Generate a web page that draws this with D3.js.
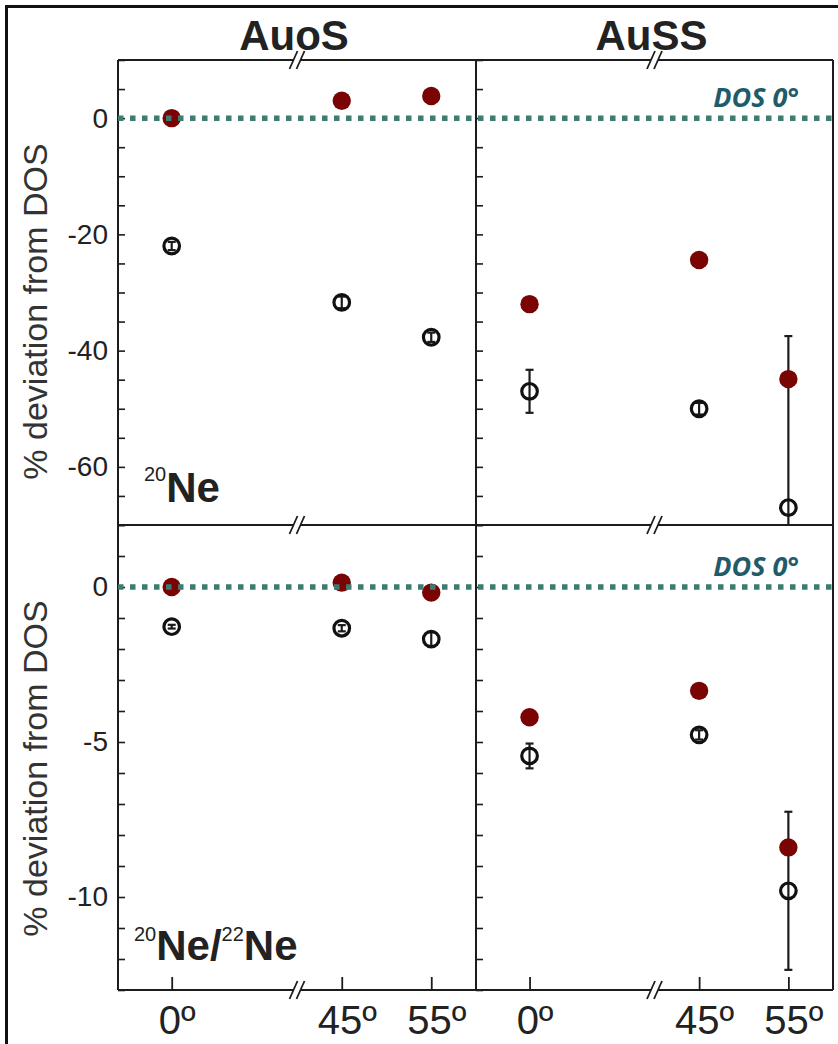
<!DOCTYPE html>
<html><head><meta charset="utf-8">
<script src="https://cdn.jsdelivr.net/npm/d3@7"></script>
<style>body{margin:0;background:#fff} svg{display:block}</style>
</head><body><svg id="c" width="838" height="1044"></svg>
<script>
// ---------- data ----------
const angles = [0, 45, 55];
const angleLabels = ["0º", "45º", "55º"];
const panelTitles = ["AuoS", "AuSS"];
const ne20Ticks = [0, -20, -40, -60];
const ratioTicks = [0, -5, -10];
const refLabel = "DOS 0°";
const yTitle = "% deviation from DOS";

// 20Ne, AuoS
const ne20_AuoS_filled = [0.0, 3.0, 3.8];
const ne20_AuoS_open = [-22.0, -31.7, -37.7];
const ne20_AuoS_err = [0.7, 1.0, 0.8];
// 20Ne, AuSS
const ne20_AuSS_filled = [-32.0, -24.4, -44.9];
const ne20_AuSS_open = [-47.0, -50.0, -67.0];
const ne20_AuSS_err = [3.7, 1.0, 29.5];
// 20Ne/22Ne, AuoS
const ratio_AuoS_filled = [0.0, 0.14, -0.18];
const ratio_AuoS_open = [-1.28, -1.33, -1.68];
const ratio_AuoS_err = [0.06, 0.1, 0.22];
// 20Ne/22Ne, AuSS
const ratio_AuSS_filled = [-4.2, -3.35, -8.4];
const ratio_AuSS_open = [-5.45, -4.77, -9.8];
const ratio_AuSS_err = [0.4, 0.15, 2.55];

// ---------- layout ----------
const W = 838, H = 1044;
const INK = "#1c1c1c", RED = "#7a0404", TEAL = "#3e7b70", DOSC = "#1f5b6b";
const FONT = "'Liberation Sans', Arial, Helvetica, sans-serif";
const colX = [118, 476], colW = [358, 357];
const rowTop = [60, 525], rowH = 465;

const svg = d3.select("#c");
svg.append("rect").attr("width", W).attr("height", H).attr("fill", "#fff");
svg.append("path").attr("d", "M6.5,1044 V6.5 H838").attr("fill", "none")
  .attr("stroke", "#111").attr("stroke-width", 3);

const xs = colX.map((x0, i) => d3.scaleLinear()
  .domain([-6, 14, 40, 60])
  .range([x0, x0 + colW[i] / 2, x0 + colW[i] / 2, x0 + colW[i]]));
const yTop = d3.scaleLinear().domain([-70, 10]).range([rowTop[0] + rowH, rowTop[0]]);
const yBot = d3.scaleLinear().domain([-13, 2]).range([rowTop[1] + rowH, rowTop[1]]);
const ys = [yTop, yBot];

const panels = [
  {r: 0, c: 0, f: ne20_AuoS_filled, o: ne20_AuoS_open, e: ne20_AuoS_err},
  {r: 0, c: 1, f: ne20_AuSS_filled, o: ne20_AuSS_open, e: ne20_AuSS_err},
  {r: 1, c: 0, f: ratio_AuoS_filled, o: ratio_AuoS_open, e: ratio_AuoS_err},
  {r: 1, c: 1, f: ratio_AuSS_filled, o: ratio_AuSS_open, e: ratio_AuSS_err}
];

const defs = svg.append("defs");
panels.forEach((p, i) => {
  defs.append("clipPath").attr("id", "clip" + i).append("rect")
    .attr("x", colX[p.c]).attr("y", rowTop[p.r]).attr("width", colW[p.c]).attr("height", rowH);
});

// minor/major inward ticks
const tickSets = [d3.range(10, -70.1, -5), d3.range(2, -13.1, -1)];
[0, 1].forEach(r => {
  [0, 1].forEach(c => {
    const g = svg.append("g").attr("transform", `translate(${colX[c]},0)`)
      .call(d3.axisRight(ys[r]).tickValues(tickSets[r]).tickSize(7).tickFormat(""));
    g.select(".domain").remove();
    g.selectAll("line").attr("stroke", INK).attr("stroke-width", 1.6);
  });
  const lg = svg.append("g").attr("transform", `translate(${colX[0]},0)`)
    .call(d3.axisLeft(ys[r]).tickValues(r === 0 ? ne20Ticks : ratioTicks).tickSize(0).tickPadding(10)
      .tickFormat(d => d3.format("d")(d).replace("−", "-")));
  lg.select(".domain").remove();
  lg.selectAll("text").attr("font-family", FONT).attr("font-size", 28).attr("fill", "#222");
});

// bottom x axis ticks + labels
[0, 1].forEach(c => {
  const g = svg.append("g").attr("transform", `translate(0,${rowTop[1] + rowH})`)
    .call(d3.axisTop(xs[c]).tickValues(angles).tickSize(13).tickFormat(""));
  g.select(".domain").remove();
  g.selectAll("line").attr("stroke", INK).attr("stroke-width", 1.8);
  const lg = svg.append("g").attr("transform", `translate(0,${rowTop[1] + rowH})`)
    .call(d3.axisBottom(xs[c]).tickValues(angles).tickSize(0).tickPadding(16)
      .tickFormat((d, i) => angleLabels[i]));
  lg.select(".domain").remove();
  lg.selectAll("text").attr("font-family", FONT).attr("font-size", 40).attr("fill", "#222").attr("dx", 5);
});

// panel frames
const xL = colX[0], xM = colX[1], xR = colX[1] + colW[1];
const frame = svg.append("g").attr("stroke", INK).attr("stroke-width", 2).attr("fill", "none");
[rowTop[0], rowTop[1], rowTop[1] + rowH].forEach(y => frame.append("line").attr("x1", xL).attr("x2", xR).attr("y1", y).attr("y2", y));
[xL, xM, xR].forEach(x => frame.append("line").attr("x1", x).attr("x2", x).attr("y1", rowTop[0]).attr("y2", rowTop[1] + rowH));

// axis break marks
function brk(x, y) {
  const g = svg.append("g");
  g.append("polygon").attr("points", `${x - 7.5},${y + 9} ${x + 0.5},${y - 9} ${x + 7.5},${y - 9} ${x - 0.5},${y + 9}`)
    .attr("fill", "#fff");
  g.append("line").attr("x1", x - 7.5).attr("y1", y + 9).attr("x2", x + 0.5).attr("y2", y - 9)
    .attr("stroke", INK).attr("stroke-width", 1.8);
  g.append("line").attr("x1", x - 0.5).attr("y1", y + 9).attr("x2", x + 7.5).attr("y2", y - 9)
    .attr("stroke", INK).attr("stroke-width", 1.8);
}
[0, 1].forEach(c => {
  const bx = xs[c](14);
  [rowTop[0], rowTop[1], rowTop[1] + rowH].forEach(y => brk(bx, y));
});

// data marks
panels.forEach((p, i) => {
  const x = xs[p.c], y = ys[p.r];
  const g = svg.append("g").attr("clip-path", `url(#clip${i})`);
  const idx = angles.map((a, k) => k);
  // error bars on open symbols
  const eb = g.selectAll(".eb").data(idx).join("g").attr("stroke", INK).attr("stroke-width", 2.2);
  eb.append("line").attr("x1", k => x(angles[k])).attr("x2", k => x(angles[k]))
    .attr("y1", k => y(p.o[k] + p.e[k])).attr("y2", k => y(p.o[k] - p.e[k]));
  eb.append("line").attr("x1", k => x(angles[k]) - 4).attr("x2", k => x(angles[k]) + 4)
    .attr("y1", k => y(p.o[k] + p.e[k])).attr("y2", k => y(p.o[k] + p.e[k]));
  eb.append("line").attr("x1", k => x(angles[k]) - 4).attr("x2", k => x(angles[k]) + 4)
    .attr("y1", k => y(p.o[k] - p.e[k])).attr("y2", k => y(p.o[k] - p.e[k]));
  // open circles
  g.selectAll(".oc").data(idx).join("circle")
    .attr("cx", k => x(angles[k])).attr("cy", k => y(p.o[k])).attr("r", 7.8)
    .attr("fill", "none").attr("stroke", "#111").attr("stroke-width", 3.2);
  // filled circles
  g.selectAll(".fc").data(idx).join("circle")
    .attr("cx", k => x(angles[k])).attr("cy", k => y(p.f[k])).attr("r", 9.2)
    .attr("fill", RED);
});

// DOS reference dotted lines
[0, 1].forEach(r => {
  svg.append("line").attr("x1", xL).attr("x2", xR).attr("y1", ys[r](0)).attr("y2", ys[r](0))
    .attr("stroke", TEAL).attr("stroke-width", 5.5).attr("stroke-dasharray", "5.5 6.5");
  svg.append("text").attr("x", 799).attr("y", ys[r](0) - 11)
    .attr("text-anchor", "end").attr("font-family", "'Open Sans', sans-serif")
    .attr("font-style", "italic").attr("font-weight", "bold").attr("font-size", 27)
    .attr("fill", DOSC).text(refLabel);
});

// titles
panelTitles.forEach((t, c) => {
  svg.append("text").attr("x", xs[c](14) - 3).attr("y", 50).attr("text-anchor", "middle")
    .attr("font-family", FONT).attr("font-weight", "bold").attr("font-size", 42).attr("fill", "#222").text(t);
});

// y titles
[0, 1].forEach(r => {
  const cy = rowTop[r] + rowH / 2 + (r === 0 ? 19 : 11);
  svg.append("text").attr("transform", `translate(47,${cy}) rotate(-90)`).attr("text-anchor", "middle")
    .attr("font-family", FONT).attr("font-size", 34).attr("fill", "#333").text(yTitle);
});

// isotope labels
const t1 = svg.append("text").attr("x", 144).attr("y", 502).attr("font-family", FONT).attr("fill", "#222");
t1.append("tspan").attr("font-size", 20).attr("dy", -21).text("20");
t1.append("tspan").attr("font-size", 42).attr("font-weight", "bold").attr("dy", 21).text("Ne");
const t2 = svg.append("text").attr("x", 134).attr("y", 960).attr("font-family", FONT).attr("fill", "#222");
t2.append("tspan").attr("font-size", 20).attr("dy", -19).text("20");
t2.append("tspan").attr("font-size", 42).attr("font-weight", "bold").attr("dy", 19).text("Ne/");
t2.append("tspan").attr("font-size", 20).attr("dy", -19).text("22");
t2.append("tspan").attr("font-size", 42).attr("font-weight", "bold").attr("dy", 19).text("Ne");
</script>
</body></html>
